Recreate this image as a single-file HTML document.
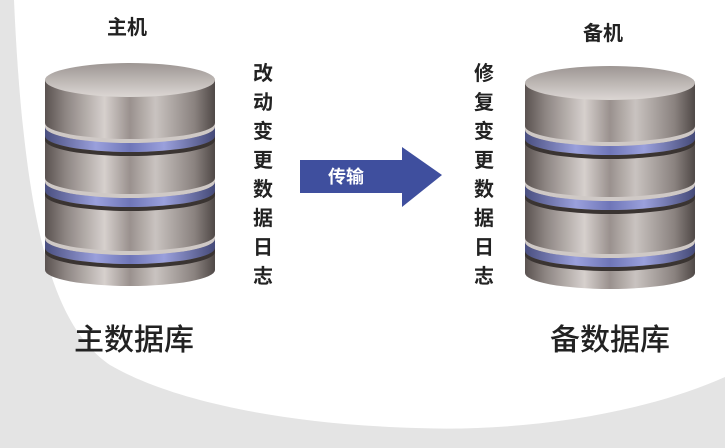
<!DOCTYPE html>
<html><head><meta charset="utf-8"><style>
html,body{margin:0;padding:0;width:725px;height:448px;overflow:hidden;background:#fff}
svg{display:block}
text{font-family:"Liberation Sans","Noto Sans CJK SC",sans-serif;font-weight:bold}
text.n{font-weight:500}
</style></head><body>
<svg width="725" height="448" viewBox="0 0 725 448" xmlns="http://www.w3.org/2000/svg">
<defs>
<linearGradient id="body" x1="0" x2="1" y1="0" y2="0">
<stop offset="0" stop-color="#5a5250"/><stop offset="0.12" stop-color="#8d8582"/>
<stop offset="0.35" stop-color="#d6d0cd"/><stop offset="0.5" stop-color="#9a918e"/>
<stop offset="0.65" stop-color="#c9c3c0"/><stop offset="0.88" stop-color="#8a827f"/>
<stop offset="1" stop-color="#4f4846"/></linearGradient>
<linearGradient id="top" x1="0" x2="0" y1="0" y2="1">
<stop offset="0" stop-color="#9d9693"/><stop offset="1" stop-color="#dcd7d4"/></linearGradient>
<linearGradient id="blue" x1="0" x2="1" y1="0" y2="0">
<stop offset="0" stop-color="#4a4f80"/><stop offset="0.3" stop-color="#9aa0dc"/>
<stop offset="0.5" stop-color="#6f76b8"/><stop offset="0.7" stop-color="#9aa0dc"/>
<stop offset="1" stop-color="#454a78"/></linearGradient>
<g id="cyl">
<path d="M0,17 L0,207 A85,16 0 0 0 170,207 L170,17 Z" fill="url(#body)"/>
<g id="band">
<path d="M0,60 A85,16 0 0 0 170,60 L170,64 A85,16 0 0 1 0,64 Z" fill="#cfc9c6"/>
<path d="M0,64 A85,16 0 0 0 170,64 L170,73 A85,16 0 0 1 0,73 Z" fill="url(#blue)"/>
<path d="M0,73 A85,16 0 0 0 170,73 L170,77 A85,16 0 0 1 0,77 Z" fill="#3a3432"/>
</g>
<use href="#band" y="55"/>
<use href="#band" y="112"/>
<ellipse cx="85" cy="17" rx="85" ry="17" fill="url(#top)"/>
</g>
</defs>
<rect width="725" height="448" fill="#e4e4e4"/>
<path d="M14,0 L725,0 L725,377 C640,415 520,432 416,428 C280,424 170,400 110,365 C60,330 25,250 14,0 Z" fill="#fff"/>
<use href="#cyl" x="45" y="63"/>
<use href="#cyl" x="525" y="66"/>
<text x="127" y="34" font-size="20" fill="#222" text-anchor="middle">主机</text>
<text x="603" y="40" font-size="20" fill="#222" text-anchor="middle">备机</text>
<g font-size="20" fill="#222" text-anchor="middle">
<text x="263" y="80">改</text><text x="263" y="109">动</text><text x="263" y="138">变</text><text x="263" y="167">更</text><text x="263" y="196">数</text><text x="263" y="225">据</text><text x="263" y="254">日</text><text x="263" y="283">志</text>
<text x="484" y="80">修</text><text x="484" y="109">复</text><text x="484" y="138">变</text><text x="484" y="167">更</text><text x="484" y="196">数</text><text x="484" y="225">据</text><text x="484" y="254">日</text><text x="484" y="283">志</text>
</g>
<path d="M300,160 L402,160 L402,147 L442,175 L402,207 L402,193 L300,193 Z" fill="#3f4f9e"/>
<text x="346" y="183" font-size="18" fill="#fff" text-anchor="middle">传输</text>
<text class="n" x="134" y="350" font-size="30" fill="#222" text-anchor="middle">主数据库</text>
<text class="n" x="610" y="350" font-size="30" fill="#222" text-anchor="middle">备数据库</text>
</svg>
</body></html>
